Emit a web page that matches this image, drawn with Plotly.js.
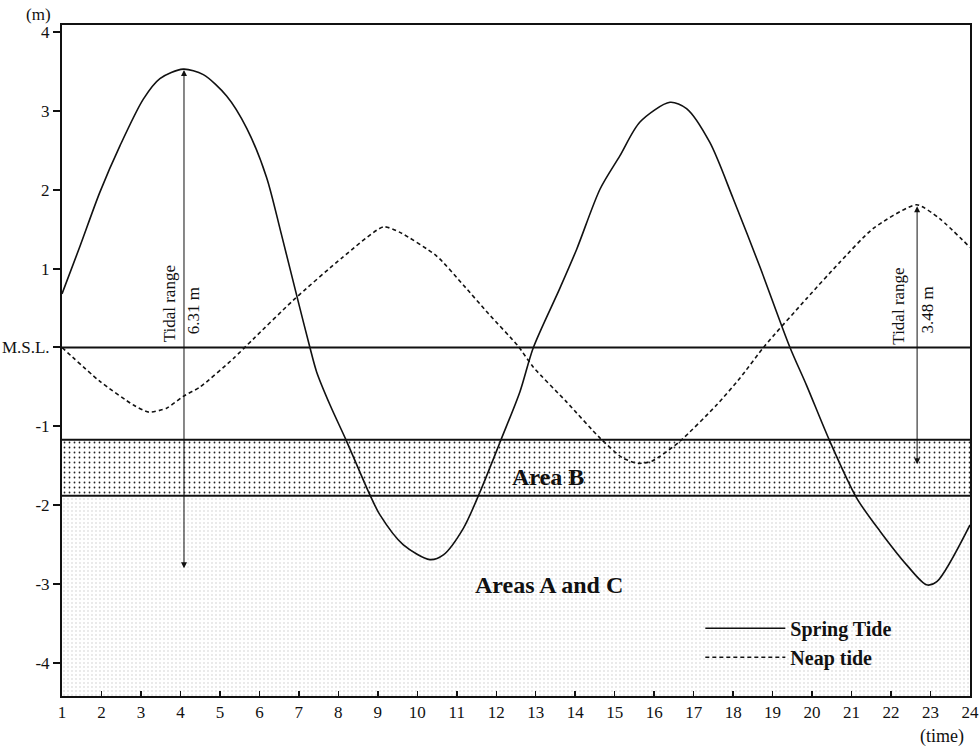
<!DOCTYPE html>
<html>
<head>
<meta charset="utf-8">
<script src="https://cdn.plot.ly/plotly-3.0.1.min.js"></script>
<style>
  html, body { margin: 0; padding: 0; background: #fff; }
  #chart { width: 980px; height: 746px; }
</style>
</head>
<body>
<div id="chart"></div>
<script>
// ---- Data ----
const springTime = [1, 1.46, 1.96, 2.47, 3.06, 3.48, 4.07, 4.58, 5.17, 5.68, 6.18, 6.55, 7.0, 7.28, 7.45, 7.79, 8.21, 8.80, 9.05, 9.64, 10.32, 10.66, 11.17, 11.59, 12.12, 12.6, 12.94, 13.61, 14.04, 14.63, 15.13, 15.64, 16.40, 16.82, 17.41, 18.00, 18.68, 19.44, 19.86, 20.45, 21.13, 21.72, 22.40, 22.90, 23.16, 24];
const springLevel = [0.68, 1.29, 1.97, 2.56, 3.15, 3.41, 3.53, 3.46, 3.19, 2.78, 2.16, 1.45, 0.55, 0.0, -0.31, -0.73, -1.19, -1.87, -2.12, -2.50, -2.69, -2.63, -2.29, -1.83, -1.17, -0.56, 0.0, 0.75, 1.25, 2.01, 2.43, 2.86, 3.11, 3.03, 2.60, 1.89, 1.02, 0.0, -0.48, -1.19, -1.91, -2.33, -2.76, -3.01, -2.97, -2.25];

const neapTime = [1, 1.96, 2.81, 3.2, 3.65, 4.07, 4.5, 5.34, 5.85, 6.86, 8.1, 9.14, 9.56, 10.49, 11.17, 11.8, 12.55, 12.94, 13.78, 14.63, 15.2, 15.6, 15.95, 16.65, 17.58, 18.17, 18.8, 19.86, 20.7, 21.55, 22.65, 23.24, 24];
const neapLevel = [0.0, -0.43, -0.73, -0.82, -0.77, -0.62, -0.50, -0.14, 0.11, 0.60, 1.14, 1.53, 1.46, 1.16, 0.79, 0.43, 0.02, -0.25, -0.69, -1.15, -1.40, -1.47, -1.44, -1.19, -0.73, -0.39, 0.02, 0.62, 1.08, 1.51, 1.81, 1.63, 1.27];

const xTicks = [1,2,3,4,5,6,7,8,9,10,11,12,13,14,15,16,17,18,19,20,21,22,23,24];
const yTickVals = [-4, -3, -2, -1, 0, 1, 2, 3, 4];
const yTickText = ['-4', '-3', '-2', '-1', 'M.S.L.', '1', '2', '3', '4'];

const msl = 0;
const areaBTop = -1.17;
const areaBBottom = -1.88;
const axisBottom = -4.42;
const axisTop = 4.09;
const timeStart = 1, timeEnd = 24;

// Tidal range arrows
const range1 = { t: 4.09, top: 3.52, bottom: -2.82, label: '6.31 m' };
const range2 = { t: 22.66, top: 1.79, bottom: -1.50, label: '3.48 m' };

const serif = 'Liberation Serif, Times New Roman, serif';

const traces = [
  { // Areas A and C
    x: [timeStart, timeEnd, timeEnd, timeStart, timeStart],
    y: [areaBBottom, areaBBottom, axisBottom, axisBottom, areaBBottom],
    mode: 'lines', line: { width: 0 }, fill: 'toself',
    fillcolor: 'rgba(0,0,0,0)',
    fillpattern: { shape: '.', fgcolor: '#c4c4c4', bgcolor: '#ffffff', size: 4, solidity: 0.08 },
    showlegend: false, hoverinfo: 'skip'
  },
  { // Area B
    x: [timeStart, timeEnd, timeEnd, timeStart, timeStart],
    y: [areaBTop, areaBTop, areaBBottom, areaBBottom, areaBTop],
    mode: 'lines', line: { width: 0 }, fill: 'toself',
    fillcolor: 'rgba(0,0,0,0)',
    fillpattern: { shape: '.', fgcolor: '#222222', bgcolor: '#ffffff', size: 5, solidity: 0.1 },
    showlegend: false, hoverinfo: 'skip'
  },
  {
    name: 'Spring Tide', x: springTime, y: springLevel, mode: 'lines',
    line: { color: '#111', width: 1.6, shape: 'spline', smoothing: 0.8 }
  },
  {
    name: 'Neap tide', x: neapTime, y: neapLevel, mode: 'lines',
    line: { color: '#111', width: 1.6, dash: '4px,3px', shape: 'spline', smoothing: 0.6 }
  }
];

function hline(y, w) {
  return { type: 'line', xref: 'x', yref: 'y', x0: timeStart, x1: timeEnd, y0: y, y1: y,
           line: { color: '#111', width: w }, layer: 'above' };
}

function rangeArrow(r) {
  return { x: r.t, y: r.top, ax: r.t, ay: r.bottom, xref: 'x', yref: 'y', axref: 'x', ayref: 'y',
           text: '', showarrow: true, arrowhead: 2, startarrowhead: 2, arrowside: 'end+start',
           arrowsize: 1.2, startarrowsize: 1.2, arrowwidth: 1, arrowcolor: '#111', standoff: 0, startstandoff: 0 };
}

const annotations = [
  rangeArrow(range1), rangeArrow(range2),
  { x: 3.71, y: 0.56, xref: 'x', yref: 'y', text: 'Tidal range', textangle: -90, showarrow: false,
    font: { family: serif, size: 17, color: '#111' } },
  { x: 4.32, y: 0.46, xref: 'x', yref: 'y', text: range1.label, textangle: -90, showarrow: false,
    font: { family: serif, size: 17, color: '#111' } },
  { x: 22.2, y: 0.53, xref: 'x', yref: 'y', text: 'Tidal range', textangle: -90, showarrow: false,
    font: { family: serif, size: 17, color: '#111' } },
  { x: 22.93, y: 0.48, xref: 'x', yref: 'y', text: range2.label, textangle: -90, showarrow: false,
    font: { family: serif, size: 17, color: '#111' } },
  { x: 13.31, y: -1.64, xref: 'x', yref: 'y', text: '<b>Area B</b>', showarrow: false,
    font: { family: serif, size: 24, color: '#111' } },
  { x: 13.33, y: -3.01, xref: 'x', yref: 'y', text: '<b>Areas A and C</b>', showarrow: false,
    font: { family: serif, size: 24, color: '#111' } },
  { x: -0.026, y: 1.015, xref: 'paper', yref: 'paper', xanchor: 'center', yanchor: 'middle',
    text: '(m)', showarrow: false, font: { family: serif, size: 17, color: '#111' } },
  { x: 0.969, y: -0.060, xref: 'paper', yref: 'paper', xanchor: 'center', yanchor: 'middle',
    text: '(time)', showarrow: false, font: { family: serif, size: 18, color: '#111' } }
];

const layout = {
  width: 980, height: 746,
  margin: { l: 62, r: 10, t: 25, b: 50 },
  paper_bgcolor: '#fff', plot_bgcolor: '#fff',
  font: { family: serif, size: 17, color: '#111' },
  xaxis: {
    range: [timeStart, timeEnd], tickvals: xTicks, ticks: 'inside', ticklen: 5, tickwidth: 1.5,
    tickcolor: '#111', showline: true, linecolor: '#111', linewidth: 2, mirror: true,
    showgrid: false, zeroline: false, tickfont: { family: serif, size: 17 }
  },
  yaxis: {
    range: [axisBottom, axisTop], tickvals: yTickVals, ticktext: yTickText, ticks: 'outside', ticklen: 7,
    tickwidth: 2, tickcolor: '#111', showline: true, linecolor: '#111', linewidth: 2, mirror: true,
    showgrid: false, zeroline: false, tickfont: { family: serif, size: 17 }
  },
  shapes: [hline(msl, 2), hline(areaBTop, 2), hline(areaBBottom, 2)],
  annotations: annotations,
  showlegend: true,
  legend: {
    x: 0.703, y: 0.13, xanchor: 'left', yanchor: 'top', bgcolor: 'rgba(0,0,0,0)',
    font: { family: serif, size: 20, color: '#111', weight: 'bold' }, itemwidth: 80, tracegroupgap: 0
  }
};

Plotly.newPlot('chart', traces, layout, { staticPlot: true, displayModeBar: false });
</script>
</body>
</html>
